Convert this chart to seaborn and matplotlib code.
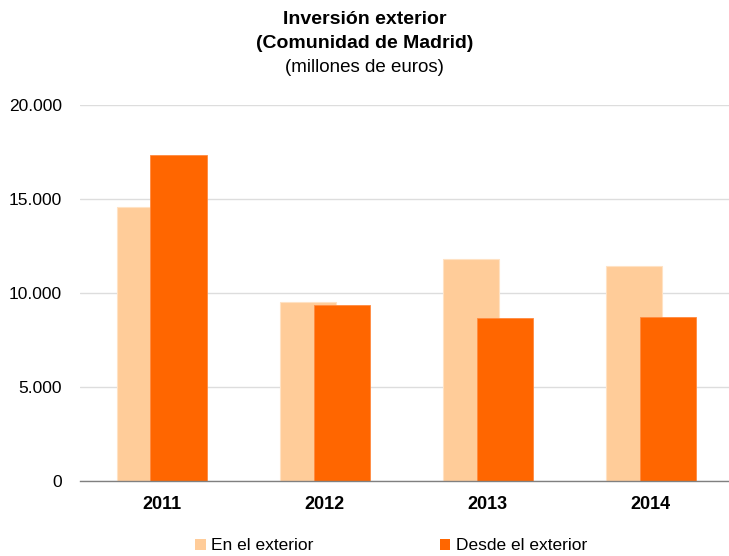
"""
Inversión exterior de la Comunidad de Madrid, 2011-2014.
Barras superpuestas: en el exterior vs desde el exterior.
"""
import numpy as np
import pandas as pd
import matplotlib
matplotlib.use("Agg")
import matplotlib.pyplot as plt
from matplotlib.patches import Patch
import seaborn as sns

# ── Datos (millones de euros) ────────────────────────────────────────────
years = ["2011", "2012", "2013", "2014"]
en_el_exterior = [14570, 9500, 11810, 11450]
desde_el_exterior = [17340, 9340, 8650, 8710]
series_names = ["En el exterior", "Desde el exterior"]
y_ticks = [0, 5000, 10000, 15000, 20000]
y_tick_labels = ["0", "5.000", "10.000", "15.000", "20.000"]

LIGHT = "#FFCC99"
DARK = "#FF6600"

sns.set_theme(style="white")
plt.rcParams["font.family"] = ["Liberation Sans", "DejaVu Sans"]
plt.rcParams["text.color"] = "black"
plt.rcParams["xtick.color"] = "black"
plt.rcParams["ytick.color"] = "black"

fig = plt.figure(figsize=(7.29, 5.56), dpi=100)
ax = fig.add_axes([80 / 729, 75 / 556, 649 / 729, 376 / 556])

idx = np.arange(len(years))
offset = 0.104
width = 0.344

df_light = pd.DataFrame({"pos": idx - offset, "valor": en_el_exterior})
df_dark = pd.DataFrame({"pos": idx + offset, "valor": desde_el_exterior})

sns.barplot(data=df_light, x="pos", y="valor", native_scale=True, width=width,
            color=LIGHT, saturation=1, edgecolor="#FFE2C4", linewidth=0.8, ax=ax)
sns.barplot(data=df_dark, x="pos", y="valor", native_scale=True, width=width,
            color=DARK, saturation=1, edgecolor="#FF8A40", linewidth=0.6, ax=ax)

ax.set_xlim(-0.5, 3.48)
ax.set_ylim(0, 20000)
ax.set_xticks(idx)
ax.set_xticklabels(years, fontsize=13, fontweight="bold")
ax.set_yticks(y_ticks)
ax.set_yticklabels(y_tick_labels, fontsize=12.5)
ax.tick_params(axis="y", length=0, pad=13)
ax.tick_params(axis="x", length=0, pad=11)
ax.set_xlabel("")
ax.set_ylabel("")

ax.yaxis.grid(True, color="#dddddd", linewidth=1)
ax.set_axisbelow(True)
for side in ["top", "right", "left"]:
    ax.spines[side].set_visible(False)
ax.spines["bottom"].set_color("#808080")
ax.spines["bottom"].set_linewidth(1)

# Título
fig.text(0.5, 1 - 19 / 556, "Inversión exterior", ha="center", va="center",
         fontsize=14, fontweight="bold")
fig.text(0.5, 1 - 44 / 556, "(Comunidad de Madrid)", ha="center", va="center",
         fontsize=14, fontweight="bold")
fig.text(0.5, 1 - 68 / 556, "(millones de euros)", ha="center", va="center",
         fontsize=13.5)

# Leyenda
handles = [Patch(facecolor=LIGHT, edgecolor="none"),
           Patch(facecolor=DARK, edgecolor="none")]
fig.legend(handles, series_names, loc="center", ncol=2, frameon=False,
           bbox_to_anchor=(391 / 729, 10 / 556), fontsize=12.5,
           handlelength=0.6, handleheight=0.6, handletextpad=0.3,
           columnspacing=7.3)

fig.savefig("out.png", dpi=100)
plt.close(fig)
